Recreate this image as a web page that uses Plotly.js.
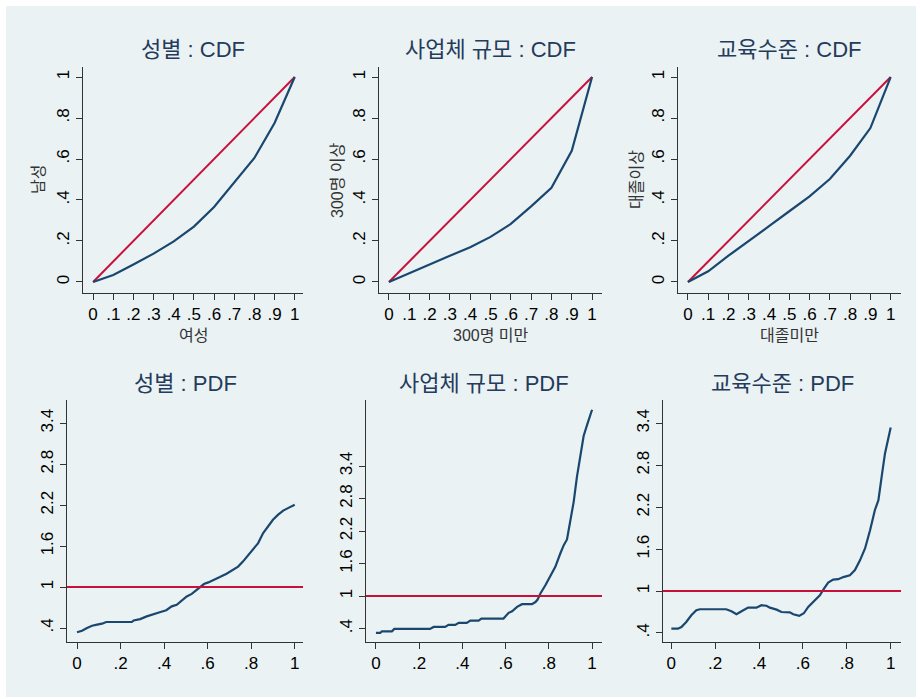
<!DOCTYPE html>
<html>
<head>
<meta charset="utf-8">
<script src="https://cdn.plot.ly/plotly-3.0.1.min.js"></script>
<style>html,body{margin:0;padding:0;background:#fff;} #chart{width:920px;height:699px;}</style>
</head>
<body>
<div id="chart"></div>
<script>
// ---------- data ----------
const cdfX = [0, 0.1, 0.2, 0.3, 0.4, 0.5, 0.6, 0.7, 0.8, 0.9, 1];
const genderCdf = [0, 0.034, 0.085, 0.138, 0.198, 0.27, 0.366, 0.486, 0.605, 0.776, 1];
const firmCdf = [0, 0.041, 0.085, 0.128, 0.169, 0.22, 0.283, 0.369, 0.459, 0.64, 1];
const eduCdf = [0, 0.052, 0.128, 0.198, 0.272, 0.345, 0.418, 0.502, 0.616, 0.751, 1];
const diagLine = [0, 1];

const genderPdfX = [0, 0.023, 0.046, 0.069, 0.092, 0.115, 0.134, 0.168, 0.252, 0.26, 0.29, 0.32, 0.35, 0.38, 0.41, 0.435, 0.458, 0.48, 0.504, 0.527, 0.55, 0.562, 0.583, 0.603, 0.626, 0.656, 0.687, 0.718, 0.74, 0.763, 0.786, 0.809, 0.832, 0.855, 0.878, 0.90, 0.924, 0.947, 0.969, 1.0];
const genderPdfY = [0.337, 0.36, 0.40, 0.434, 0.449, 0.463, 0.488, 0.488, 0.488, 0.51, 0.53, 0.57, 0.595, 0.63, 0.66, 0.717, 0.74, 0.805, 0.863, 0.90, 0.96, 0.995, 1.044, 1.068, 1.107, 1.146, 1.195, 1.254, 1.30, 1.376, 1.46, 1.546, 1.644, 1.79, 1.888, 1.985, 2.06, 2.12, 2.156, 2.205];

const firmPdfX = [0, 0.02, 0.028, 0.074, 0.085, 0.25, 0.267, 0.32, 0.336, 0.367, 0.383, 0.42, 0.437, 0.475, 0.488, 0.59, 0.614, 0.63, 0.653, 0.676, 0.722, 0.738, 0.748, 0.761, 0.784, 0.807, 0.83, 0.853, 0.869, 0.884, 0.90, 0.915, 0.93, 0.946, 0.961, 0.977, 1.0];
const firmPdfY = [0.32, 0.32, 0.35, 0.35, 0.394, 0.394, 0.43, 0.43, 0.468, 0.468, 0.505, 0.505, 0.548, 0.548, 0.585, 0.585, 0.69, 0.72, 0.80, 0.85, 0.85, 0.89, 0.935, 1.047, 1.20, 1.367, 1.54, 1.786, 1.94, 2.045, 2.40, 2.74, 3.20, 3.57, 3.955, 4.16, 4.44];

const eduPdfX = [0, 0.03, 0.046, 0.068, 0.091, 0.114, 0.13, 0.25, 0.274, 0.297, 0.32, 0.35, 0.388, 0.411, 0.434, 0.449, 0.48, 0.502, 0.54, 0.556, 0.583, 0.604, 0.624, 0.654, 0.677, 0.696, 0.715, 0.738, 0.761, 0.784, 0.814, 0.837, 0.86, 0.883, 0.906, 0.928, 0.944, 0.959, 0.974, 1.0];
const eduPdfY = [0.462, 0.462, 0.486, 0.558, 0.653, 0.725, 0.74, 0.74, 0.71, 0.668, 0.71, 0.763, 0.763, 0.797, 0.79, 0.763, 0.734, 0.70, 0.696, 0.668, 0.644, 0.682, 0.773, 0.868, 0.94, 1.035, 1.12, 1.164, 1.17, 1.20, 1.226, 1.30, 1.44, 1.61, 1.87, 2.16, 2.30, 2.64, 2.97, 3.34];
const refLevel = 1;

const cdfTickVals = [0, 0.1, 0.2, 0.3, 0.4, 0.5, 0.6, 0.7, 0.8, 0.9, 1];
const cdfTickText = ['0', '.1', '.2', '.3', '.4', '.5', '.6', '.7', '.8', '.9', '1'];
const cdfYTickVals = [0, 0.2, 0.4, 0.6, 0.8, 1];
const cdfYTickText = ['0', '.2', '.4', '.6', '.8', '1'];
const pdfXTickVals = [0, 0.2, 0.4, 0.6, 0.8, 1];
const pdfXTickText = ['0', '.2', '.4', '.6', '.8', '1'];
const pdfYTickVals = [0.4, 1, 1.6, 2.2, 2.8, 3.4];
const pdfYTickText = ['.4', '1', '1.6', '2.2', '2.8', '3.4'];

const panelTitles = ['성별 : CDF', '사업체 규모 : CDF', '교육수준 : CDF', '성별 : PDF', '사업체 규모 : PDF', '교육수준 : PDF'];
const cdfXTitles = ['여성', '300명 미만', '대졸미만'];
const cdfYTitles = ['남성', '300명 이상', '대졸이상'];

// ---------- styling ----------
const W = 920, H = 699;
const NAVY = '#1a476f', RED = '#c8103c', BG = '#eaf2f3';
const FONT = 'Liberation Sans, Arial, Noto Sans CJK KR, sans-serif';
const TITLE_COLOR = '#253b5b';

function px(x) { return x / W; }
function py(y) { return 1 - y / H; }

// panel pixel boxes [left, right, top, bottom]
const boxes = [
  [83, 303, 67, 293], [379, 602, 67, 293], [678, 901, 67, 293],
  [67, 303, 400, 642], [366, 602, 400, 642], [663, 901, 400, 642]
];
const xRanges = [[-0.05, 1.041], [-0.049, 1.049], [-0.049, 1.051], [-0.046, 1.038], [-0.046, 1.046], [-0.038, 1.047]];
const yRanges = [[-0.054, 1.049], [-0.054, 1.049], [-0.054, 1.049], [0.195, 3.74], [0.152, 4.62], [0.271, 3.734]];
const yTitleX = [38, 337, 636];

const cdfSeries = [genderCdf, firmCdf, eduCdf];
const pdfSeries = [[genderPdfX, genderPdfY], [firmPdfX, firmPdfY], [eduPdfX, eduPdfY]];

const data = [];
const layout = {
  width: W, height: H,
  margin: {l: 0, r: 0, t: 0, b: 0},
  paper_bgcolor: '#ffffff', plot_bgcolor: '#ffffff',
  showlegend: false,
  font: {family: FONT, color: '#000'},
  shapes: [{type: 'rect', xref: 'paper', yref: 'paper', x0: px(6), x1: px(916), y0: py(697), y1: py(6),
            fillcolor: BG, line: {width: 0}, layer: 'below'}],
  annotations: []
};

for (let i = 0; i < 6; i++) {
  const n = i + 1;
  const xa = n === 1 ? 'x' : 'x' + n;
  const ya = n === 1 ? 'y' : 'y' + n;
  const b = boxes[i];
  const isCdf = i < 3;
  const axCommon = {
    ticks: 'outside', ticklen: 6, tickcolor: '#333', tickwidth: 1,
    showline: true, linecolor: '#333', linewidth: 1,
    zeroline: false, automargin: false,
    tickfont: {size: 17, color: '#000', family: FONT}
  };
  layout['xaxis' + (n === 1 ? '' : n)] = Object.assign({}, axCommon, {
    domain: [px(b[0]), px(b[1])], range: xRanges[i], anchor: ya,
    tickmode: 'array',
    tickvals: isCdf ? cdfTickVals : pdfXTickVals,
    ticktext: isCdf ? cdfTickText : pdfXTickText,
    showgrid: false
  });
  layout['yaxis' + (n === 1 ? '' : n)] = Object.assign({}, axCommon, {
    domain: [py(b[3]), py(b[2])], range: yRanges[i], anchor: xa,
    tickmode: 'array',
    tickvals: isCdf ? cdfYTickVals : pdfYTickVals,
    ticktext: isCdf ? cdfYTickText : pdfYTickText,
    tickangle: -90,
    showgrid: true, gridcolor: BG, gridwidth: 2
  });

  layout.annotations.push({
    text: panelTitles[i], xref: 'paper', yref: 'paper',
    x: px((b[0] + b[1]) / 2), y: py(isCdf ? 50 : 383),
    xanchor: 'center', yanchor: 'middle', showarrow: false,
    font: {size: 22, color: TITLE_COLOR, family: FONT}
  });

  if (isCdf) {
    // axis titles
    layout.annotations.push({
      text: cdfXTitles[i], xref: 'paper', yref: 'paper',
      x: px((b[0] + b[1]) / 2), y: py(336), xanchor: 'center', yanchor: 'middle', showarrow: false,
      font: {size: 16, color: '#333', family: FONT}
    });
    layout.annotations.push({
      text: cdfYTitles[i], xref: 'paper', yref: 'paper', textangle: -90,
      x: px(yTitleX[i]), y: py((b[2] + b[3]) / 2), xanchor: 'center', yanchor: 'middle', showarrow: false,
      font: {size: 16, color: '#333', family: FONT}
    });
    data.push({x: diagLine, y: diagLine, xaxis: xa, yaxis: ya, mode: 'lines',
               line: {color: RED, width: 2}, hoverinfo: 'skip'});
    data.push({x: cdfX, y: cdfSeries[i], xaxis: xa, yaxis: ya, mode: 'lines',
               line: {color: NAVY, width: 2.2}});
  } else {
    const s = pdfSeries[i - 3];
    data.push({x: s[0], y: s[1], xaxis: xa, yaxis: ya, mode: 'lines',
               line: {color: NAVY, width: 2.2}});
    layout.shapes.push({type: 'line', xref: xa + ' domain', x0: 0, x1: 1, yref: ya, y0: refLevel, y1: refLevel,
                        line: {color: RED, width: 2}});
  }
}

Plotly.newPlot('chart', data, layout, {displayModeBar: false, staticPlot: true});
</script>
</body>
</html>
